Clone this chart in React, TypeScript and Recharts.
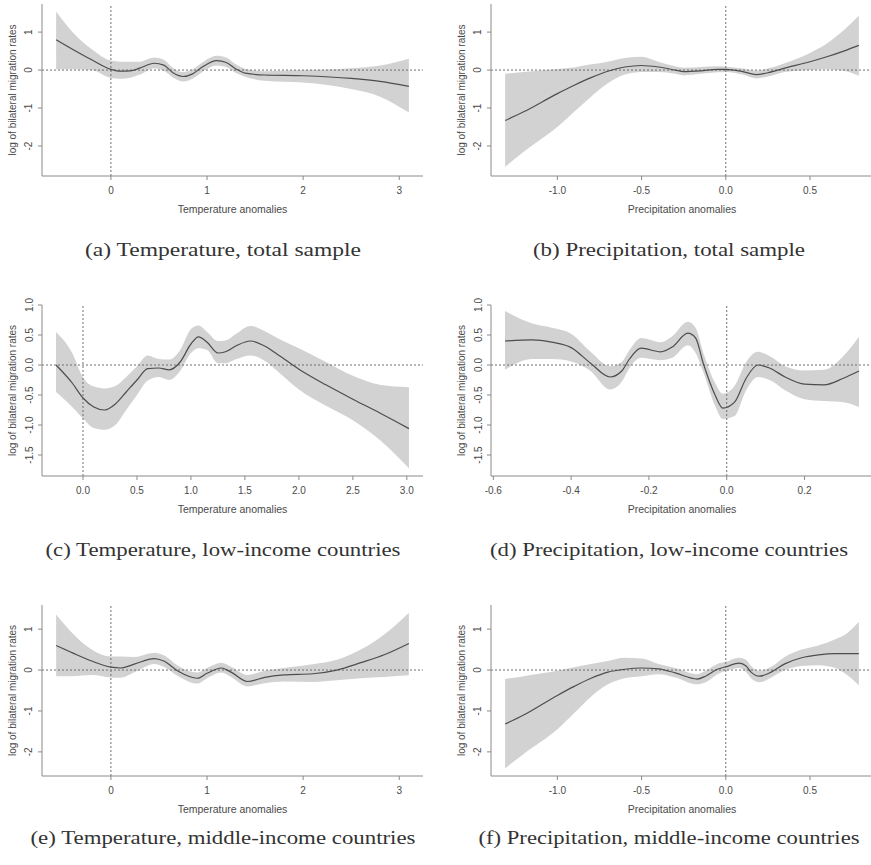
import React from 'react';
import { ComposedChart, Area, Line, XAxis, YAxis, ReferenceLine } from 'recharts';

// (a) Temperature, total sample
const aX = [-0.57, -0.4, -0.2, 0, 0.1, 0.2, 0.3, 0.45, 0.55, 0.65, 0.75, 0.85, 0.95, 1.1, 1.2, 1.3, 1.4, 1.6, 2.0, 2.5, 2.8, 3.1];
const aFit = [0.8, 0.55, 0.27, 0.02, -0.03, -0.02, 0.05, 0.18, 0.13, -0.08, -0.17, -0.1, 0.08, 0.25, 0.2, 0.03, -0.08, -0.13, -0.15, -0.22, -0.3, -0.43];
const aHi = [1.54, 1.0, 0.55, 0.25, 0.22, 0.22, 0.22, 0.33, 0.27, 0.05, -0.05, 0.02, 0.2, 0.38, 0.33, 0.15, 0.03, -0.03, 0.0, 0.05, 0.12, 0.3];
const aLo = [0.02, 0.02, 0.0, -0.21, -0.23, -0.2, -0.12, 0.05, -0.02, -0.2, -0.3, -0.23, -0.05, 0.12, 0.08, -0.08, -0.18, -0.28, -0.33, -0.5, -0.7, -1.12];

// (b) Precipitation, total sample
const bX = [-1.31, -1.2, -1.0, -0.9, -0.8, -0.7, -0.6, -0.5, -0.4, -0.3, -0.25, -0.15, -0.05, 0.0, 0.1, 0.18, 0.25, 0.35, 0.5, 0.6, 0.7, 0.79];
const bFit = [-1.33, -1.1, -0.62, -0.4, -0.2, -0.03, 0.08, 0.12, 0.08, 0.0, -0.04, -0.02, 0.02, 0.02, -0.04, -0.12, -0.07, 0.05, 0.22, 0.35, 0.5, 0.65];
const bHi = [-0.1, -0.05, 0.03, 0.07, 0.15, 0.22, 0.32, 0.35, 0.22, 0.1, 0.06, 0.08, 0.1, 0.09, 0.04, -0.02, 0.04, 0.18, 0.45, 0.7, 1.05, 1.43];
const bLo = [-2.55, -2.15, -1.5, -1.1, -0.7, -0.35, -0.12, -0.05, -0.05, -0.1, -0.14, -0.1, -0.06, -0.05, -0.12, -0.22, -0.17, -0.05, 0.0, 0.02, -0.02, -0.15];

// (c) Temperature, low-income countries
const cX = [-0.25, -0.1, 0, 0.1, 0.2, 0.3, 0.4, 0.5, 0.6, 0.7, 0.8, 0.9, 1.0, 1.07, 1.15, 1.25, 1.32, 1.42, 1.55, 1.7, 1.8, 2.0, 2.25, 2.5, 2.75, 3.02];
const cFit = [0.0, -0.3, -0.55, -0.7, -0.75, -0.65, -0.45, -0.25, -0.06, -0.05, -0.08, 0.05, 0.35, 0.47, 0.38, 0.2, 0.22, 0.32, 0.4, 0.3, 0.18, -0.07, -0.33, -0.57, -0.8, -1.06];
const cHi = [0.55, 0.2, -0.21, -0.36, -0.39, -0.35, -0.2, -0.02, 0.16, 0.1, 0.09, 0.25, 0.6, 0.66, 0.55, 0.4, 0.41, 0.52, 0.65, 0.55, 0.45, 0.28, 0.05, -0.18, -0.33, -0.37];
const cLo = [-0.45, -0.7, -0.89, -1.05, -1.08, -1.0, -0.75, -0.5, -0.26, -0.2, -0.25, -0.1, 0.2, 0.28, 0.25, 0.03, 0.03, 0.1, 0.16, 0.05, -0.1, -0.41, -0.68, -0.92, -1.25, -1.72];

// (d) Precipitation, low-income countries
const dX = [-0.57, -0.5, -0.45, -0.4, -0.35, -0.3, -0.27, -0.25, -0.22, -0.17, -0.14, -0.1, -0.08, -0.06, -0.03, -0.01, 0.02, 0.05, 0.08, 0.11, 0.15, 0.2, 0.25, 0.3, 0.34];
const dFit = [0.4, 0.42, 0.38, 0.29, 0.03, -0.2, -0.1, 0.1, 0.28, 0.22, 0.3, 0.53, 0.45, 0.02, -0.5, -0.72, -0.62, -0.22, 0.0, -0.05, -0.2, -0.32, -0.33, -0.22, -0.1];
const dHi = [0.9, 0.69, 0.62, 0.52, 0.22, -0.02, 0.05, 0.25, 0.45, 0.38, 0.48, 0.72, 0.62, 0.2, -0.3, -0.48, -0.35, 0.05, 0.22, 0.15, -0.02, -0.09, -0.08, 0.15, 0.47];
const dLo = [-0.08, 0.1, 0.1, 0.06, -0.1, -0.41, -0.28, -0.05, 0.12, 0.08, 0.12, 0.33, 0.2, -0.12, -0.68, -0.9, -0.85, -0.42, -0.2, -0.25, -0.42, -0.57, -0.6, -0.62, -0.7];

// (e) Temperature, middle-income countries
const eX = [-0.57, -0.4, -0.2, 0, 0.1, 0.25, 0.45, 0.55, 0.7, 0.9, 1.0, 1.15, 1.25, 1.42, 1.6, 1.8, 2.1, 2.35, 2.6, 2.85, 3.1];
const eFit = [0.6, 0.42, 0.22, 0.07, 0.05, 0.15, 0.28, 0.22, -0.03, -0.2, -0.08, 0.05, -0.05, -0.28, -0.18, -0.12, -0.09, 0.0, 0.18, 0.38, 0.65];
const eHi = [1.36, 0.9, 0.5, 0.33, 0.33, 0.32, 0.42, 0.36, 0.1, -0.06, 0.05, 0.18, 0.08, -0.12, -0.02, 0.05, 0.14, 0.25, 0.5, 0.88, 1.4];
const eLo = [-0.15, -0.15, -0.12, -0.18, -0.19, -0.05, 0.15, 0.08, -0.15, -0.33, -0.2, -0.06, -0.17, -0.4, -0.32, -0.28, -0.29, -0.25, -0.2, -0.17, -0.13];

// (f) Precipitation, middle-income countries
const fX = [-1.31, -1.2, -1.0, -0.9, -0.8, -0.7, -0.6, -0.5, -0.4, -0.3, -0.17, -0.12, -0.05, 0.0, 0.08, 0.12, 0.15, 0.2, 0.27, 0.35, 0.45, 0.55, 0.65, 0.72, 0.79];
const fFit = [-1.32, -1.1, -0.62, -0.4, -0.2, -0.05, 0.02, 0.05, 0.03, -0.07, -0.22, -0.15, 0.02, 0.08, 0.17, 0.1, -0.05, -0.15, -0.05, 0.15, 0.3, 0.37, 0.4, 0.4, 0.4];
const fHi = [-0.22, -0.15, -0.02, 0.07, 0.15, 0.22, 0.3, 0.28, 0.15, 0.05, -0.1, -0.02, 0.15, 0.2, 0.3, 0.25, 0.1, -0.02, 0.08, 0.32, 0.5, 0.6, 0.75, 0.9, 1.18];
const fLo = [-2.4, -2.05, -1.45, -1.05, -0.65, -0.35, -0.2, -0.15, -0.1, -0.18, -0.35, -0.3, -0.1, -0.02, 0.05, -0.05, -0.2, -0.3, -0.18, 0.0, 0.1, 0.12, 0.05, -0.12, -0.37];

// ticks
const tempTicksWide = [0, 1, 2, 3];
const tempTicksFine = [0, 0.5, 1, 1.5, 2, 2.5, 3];
const precTicksWide = [-1.0, -0.5, 0.0, 0.5];
const precTicksFine = [-0.6, -0.4, -0.2, 0.0, 0.2];
const yTicksWide = [-2, -1, 0, 1];
const yTicksFine = [-1.5, -1.0, -0.5, 0.0, 0.5, 1.0];

const yTitle = 'log of bilateral migration rates';
const tempTitle = 'Temperature anomalies';
const precTitle = 'Precipitation anomalies';
const captions = [
  '(a) Temperature, total sample',
  '(b) Precipitation, total sample',
  '(c) Temperature, low-income countries',
  '(d) Precipitation, low-income countries',
  '(e) Temperature, middle-income countries',
  '(f) Precipitation, middle-income countries',
];

const SANS = '"Liberation Sans", Arial, sans-serif';
const TXT = '#4a4a4a';
const BOX = '#8a8a8a';
const PADT = 20;

type PanelProps = {
  left: number; top: number; w: number; h: number;
  xs: number[]; fit: number[]; lo: number[]; hi: number[];
  xDomain: [number, number]; yDomain: [number, number];
  xTicks: number[]; yTicks: number[]; xDec: number; yDec: number;
};

function Panel(p: PanelProps) {
  const data = p.xs.map((x, i) => ({ x, fit: p.fit[i], band: [p.lo[i], p.hi[i]] }));
  const W = p.w + 50;
  const H = p.h + PADT + 50;
  const XTick = (t: any) => (
    <text x={t.x} y={t.y + 10} textAnchor="middle" dominantBaseline="central" fontFamily={SANS} fontSize={10} fill={TXT}>
      {Number(t.payload.value).toFixed(p.xDec)}
    </text>
  );
  const YTick = (t: any) => (
    <text x={t.x - 9} y={t.y} transform={`rotate(-90 ${t.x - 9} ${t.y})`} textAnchor="middle" dominantBaseline="central" fontFamily={SANS} fontSize={10} fill={TXT}>
      {Number(t.payload.value).toFixed(p.yDec)}
    </text>
  );
  return (
    <div style={{ position: 'absolute', left: p.left - 45, top: p.top - PADT }}>
      <ComposedChart width={W} height={H} data={data} margin={{ top: PADT, right: 5, bottom: 5, left: 5 }}>
        <XAxis xAxisId="b" dataKey="x" type="number" domain={p.xDomain} ticks={p.xTicks} allowDataOverflow interval={0}
          height={45} tickSize={4} tickMargin={0} axisLine={{ stroke: BOX }} tickLine={{ stroke: BOX }} tick={XTick} />
        <XAxis xAxisId="t" orientation="top" dataKey="x" type="number" domain={p.xDomain} allowDataOverflow
          height={0} tick={false} tickLine={false} axisLine={{ stroke: BOX }} />
        <YAxis yAxisId="l" type="number" domain={p.yDomain} ticks={p.yTicks} allowDataOverflow interval={0}
          width={40} tickSize={4} tickMargin={0} axisLine={{ stroke: BOX }} tickLine={{ stroke: BOX }} tick={YTick} />
        <YAxis yAxisId="r" orientation="right" type="number" domain={p.yDomain} allowDataOverflow
          width={0} tick={false} tickLine={false} axisLine={{ stroke: BOX }} />
        <Area xAxisId="b" yAxisId="l" dataKey="band" type="monotone" stroke="none" fill="#d2d2d2" fillOpacity={1} isAnimationActive={false} dot={false} activeDot={false} />
        <ReferenceLine xAxisId="b" yAxisId="l" y={0} stroke="#6e6e6e" strokeDasharray="2 2" strokeWidth={1} />
        <ReferenceLine xAxisId="b" yAxisId="l" x={0} stroke="#6e6e6e" strokeDasharray="2 2" strokeWidth={1} />
        <Line xAxisId="b" yAxisId="l" dataKey="fit" type="monotone" stroke="#4d4d4d" strokeWidth={1.2} dot={false} activeDot={false} isAnimationActive={false} />
      </ComposedChart>
    </div>
  );
}

const tempDomWide: [number, number] = [-0.717, 3.247];
const precDomWide: [number, number] = [-1.394, 0.874];
const tempDomFine: [number, number] = [-0.38, 3.15];
const precDomFine: [number, number] = [-0.606, 0.376];
const yDomTop: [number, number] = [-2.79, 1.74];
const yDomMid: [number, number] = [-1.85, 1.0];
const yDomBot: [number, number] = [-2.59, 1.59];

const LBOX = 42;
const RBOX = 491;
const BW_L = 381;
const BW_R = 382;

export default function App() {
  const rows = [
    { top: 4, h: 172, cap: 256 },
    { top: 305, h: 171, cap: 556 },
    { top: 605, h: 171, cap: 844 },
  ];
  const capLen = [276, 272, 355, 358, 385, 381];
  return (
    <div style={{ position: 'absolute', left: 0, top: 0, width: 871, height: 865, overflow: 'hidden', background: '#fff' }}>
      <Panel left={LBOX} top={rows[0].top} w={BW_L} h={rows[0].h} xs={aX} fit={aFit} lo={aLo} hi={aHi}
        xDomain={tempDomWide} yDomain={yDomTop} xTicks={tempTicksWide} yTicks={yTicksWide} xDec={0} yDec={0} />
      <Panel left={RBOX} top={rows[0].top} w={BW_R} h={rows[0].h} xs={bX} fit={bFit} lo={bLo} hi={bHi}
        xDomain={precDomWide} yDomain={yDomTop} xTicks={precTicksWide} yTicks={yTicksWide} xDec={1} yDec={0} />
      <Panel left={LBOX} top={rows[1].top} w={BW_L} h={rows[1].h} xs={cX} fit={cFit} lo={cLo} hi={cHi}
        xDomain={tempDomFine} yDomain={yDomMid} xTicks={tempTicksFine} yTicks={yTicksFine} xDec={1} yDec={1} />
      <Panel left={RBOX} top={rows[1].top} w={BW_R} h={rows[1].h} xs={dX} fit={dFit} lo={dLo} hi={dHi}
        xDomain={precDomFine} yDomain={yDomMid} xTicks={precTicksFine} yTicks={yTicksFine} xDec={1} yDec={1} />
      <Panel left={LBOX} top={rows[2].top} w={BW_L} h={rows[2].h} xs={eX} fit={eFit} lo={eLo} hi={eHi}
        xDomain={tempDomWide} yDomain={yDomBot} xTicks={tempTicksWide} yTicks={yTicksWide} xDec={0} yDec={0} />
      <Panel left={RBOX} top={rows[2].top} w={BW_R} h={rows[2].h} xs={fX} fit={fFit} lo={fLo} hi={fHi}
        xDomain={precDomWide} yDomain={yDomBot} xTicks={precTicksWide} yTicks={yTicksWide} xDec={1} yDec={0} />
      <svg width={871} height={865} style={{ position: 'absolute', left: 0, top: 0, pointerEvents: 'none' }}>
        {rows.map((r, ri) => (
          <g key={ri}>
            {[LBOX, RBOX].map((bl, ci) => {
              const bw = ci === 0 ? BW_L : BW_R;
              const cy = r.top + r.h / 2;
              const tx = bl - 30;
              return (
                <g key={ci}>
                  <text x={tx} y={cy} transform={`rotate(-90 ${tx} ${cy})`} textAnchor="middle" dominantBaseline="central"
                    fontFamily={SANS} fontSize={10} fill={TXT}>{yTitle}</text>
                  <text x={bl + bw / 2} y={r.top + r.h + 33} textAnchor="middle" dominantBaseline="central"
                    fontFamily={SANS} fontSize={10.5} fill={TXT}>{ci === 0 ? tempTitle : precTitle}</text>
                  <text x={ci === 0 ? 223 : 669} y={r.cap} textAnchor="middle" fontFamily='"Liberation Serif", "Times New Roman", serif'
                    fontSize={19} fill="#333" textLength={capLen[ri * 2 + ci]} lengthAdjust="spacingAndGlyphs">
                    {captions[ri * 2 + ci]}
                  </text>
                </g>
              );
            })}
          </g>
        ))}
      </svg>
    </div>
  );
}
